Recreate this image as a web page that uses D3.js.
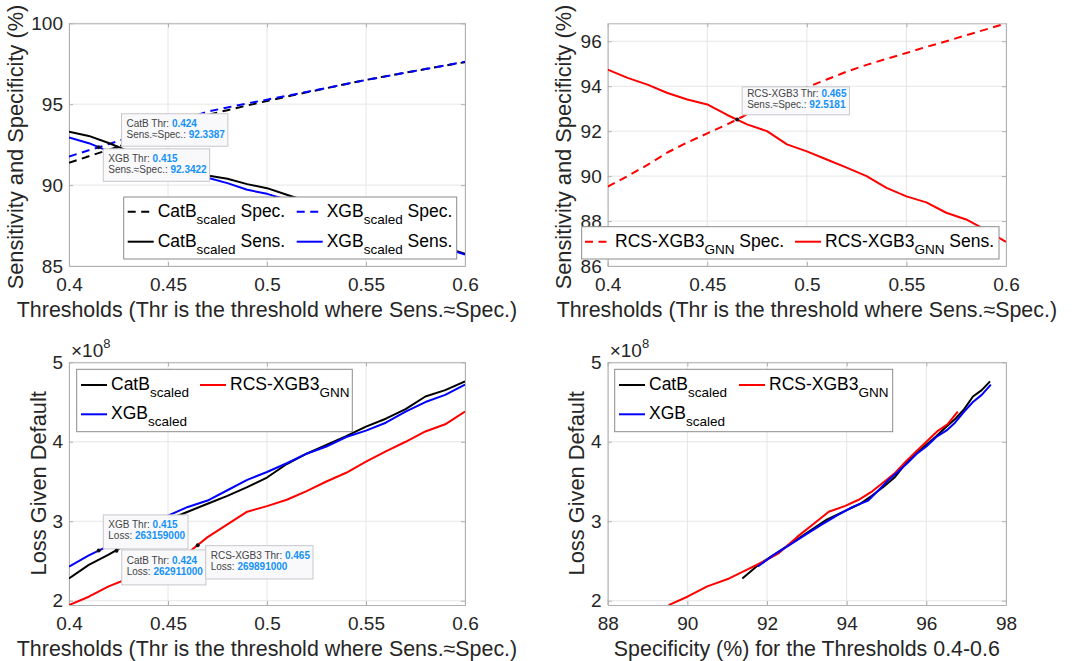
<!DOCTYPE html>
<html><head><meta charset="utf-8">
<script src="https://cdn.jsdelivr.net/npm/d3@7"></script>
<style>
body{margin:0;background:#fff}
svg{display:block}
text{font-family:"Liberation Sans",Arial,Helvetica,sans-serif;white-space:pre}
</style>
</head><body>
<svg id="c" width="1075" height="661"></svg>
<script>
// ---------------- DATA ----------------
const thresholds = [0.40,0.41,0.42,0.43,0.44,0.45,0.46,0.47,0.48,0.49,0.50,0.51,0.52,0.53,0.54,0.55,0.56,0.57,0.58,0.59,0.60];

const catbSpec = [91.38,91.78,92.18,92.60,93.05,93.50,93.92,94.34,94.63,94.92,95.20,95.47,95.73,95.99,96.25,96.50,96.73,96.95,97.17,97.39,97.60];
const xgbSpec  = [91.77,92.15,92.53,92.93,93.35,93.75,94.15,94.54,94.80,95.05,95.28,95.52,95.76,96.00,96.25,96.50,96.72,96.95,97.17,97.39,97.62];
const rcsSpec  = [89.53,90.00,90.50,91.05,91.50,91.90,92.30,92.75,93.15,93.55,93.95,94.30,94.65,94.95,95.22,95.48,95.75,96.00,96.27,96.53,96.79];

const catbSens = [93.30,93.04,92.60,92.10,91.65,91.30,90.95,90.60,90.39,90.06,89.81,89.40,89.00,88.60,88.20,87.80,87.40,87.00,86.60,86.15,85.75];
const xgbSens  = [92.94,92.59,92.10,91.70,91.35,91.00,90.70,90.45,90.12,89.71,89.46,89.10,88.75,88.40,88.05,87.70,87.30,86.95,86.55,86.10,85.70];
const rcsSens  = [94.74,94.37,94.07,93.70,93.41,93.19,92.72,92.30,92.00,91.41,91.10,90.74,90.38,90.00,89.48,89.10,88.83,88.37,88.07,87.60,87.07];

const catbLoss = [2.28e8,2.45e8,2.58e8,2.72e8,2.87e8,3.02e8,3.12e8,3.22e8,3.32e8,3.43e8,3.55e8,3.72e8,3.85e8,3.96e8,4.07e8,4.19e8,4.29e8,4.41e8,4.57e8,4.65e8,4.76e8];
const xgbLoss  = [2.43e8,2.57e8,2.69e8,2.82e8,2.95e8,3.07e8,3.18e8,3.26e8,3.39e8,3.52e8,3.62e8,3.73e8,3.85e8,3.94e8,4.06e8,4.14e8,4.24e8,4.38e8,4.50e8,4.59e8,4.72e8];
const rcsLoss  = [1.945e8,2.05e8,2.18e8,2.28e8,2.39e8,2.49e8,2.60e8,2.80e8,2.96e8,3.12e8,3.19e8,3.27e8,3.38e8,3.50e8,3.61e8,3.75e8,3.88e8,4.00e8,4.13e8,4.22e8,4.38e8];

const thrTicks   = [0.4,0.45,0.5,0.55,0.6];
const specTicks  = [88,90,92,94,96,98];
const ssTicksA   = [85,90,95,100];
const ssTicksB   = [86,88,90,92,94,96];
const lossTicks  = [2e8,3e8,4e8,5e8];

const tipsA = [
  {name:"CatB", thr:0.424, val:92.3387, txt:"92.3387"},
  {name:"XGB",  thr:0.415, val:92.3422, txt:"92.3422"}];
const tipsB = [{name:"RCS-XGB3", thr:0.465, val:92.5181, txt:"92.5181"}];
const tipsC = [
  {name:"XGB",      thr:0.415, val:263159000, txt:"263159000"},
  {name:"CatB",     thr:0.424, val:262911000, txt:"262911000"},
  {name:"RCS-XGB3", thr:0.465, val:269891000, txt:"269891000"}];

const xLabelThr  = "Thresholds (Thr is the threshold where Sens.\u2248Spec.)";
const xLabelSpec = "Specificity (%) for the Thresholds 0.4-0.6";
const yLabelSS   = "Sensitivity and Specificity (%)";
const yLabelLoss = "Loss Given Default";

// ---------------- DRAWING ----------------
const svg = d3.select('#c');
svg.append('rect').attr('width',1075).attr('height',661).attr('fill','#fff');
const FONT_TXT = '#262626';
const BLACK='#000000', BLUE='#0000ff', RED='#ff0000';
const zip = (a,b)=>a.map((v,i)=>[v,b[i]]);

let clipId = 0;
function panel(cfg){
  const {L,R,T,B} = cfg.box;
  const x = d3.scaleLinear().domain(cfg.xd).range([L,R]);
  const y = d3.scaleLinear().domain(cfg.yd).range([B,T]);
  const g = svg.append('g');
  const id = 'clip'+(clipId++);
  g.append('clipPath').attr('id',id).append('rect').attr('x',L).attr('y',T).attr('width',R-L).attr('height',B-T);

  // grid
  const grid = g.append('g').attr('stroke','#e6e6e6').attr('stroke-width',1);
  cfg.xt.forEach(v=>grid.append('line').attr('x1',x(v)).attr('x2',x(v)).attr('y1',T).attr('y2',B));
  cfg.yt.forEach(v=>grid.append('line').attr('y1',y(v)).attr('y2',y(v)).attr('x1',L).attr('x2',R));

  // axes
  const axCol = '#b0b0b0';
  const styleAx = sel=>{ sel.selectAll('path.domain').attr('stroke',axCol);
    sel.selectAll('.tick line').attr('stroke',axCol);
    sel.selectAll('.tick text').attr('fill',FONT_TXT).attr('font-size',19).attr('font-family','"Liberation Sans",Arial,sans-serif'); };
  g.append('g').attr('transform',`translate(0,${B})`)
    .call(d3.axisBottom(x).tickValues(cfg.xt).tickFormat(cfg.xf).tickSize(-4).tickSizeOuter(0).tickPadding(12)).call(styleAx);
  g.append('g').attr('transform',`translate(0,${T})`)
    .call(d3.axisTop(x).tickValues(cfg.xt).tickFormat('').tickSize(-4).tickSizeOuter(0)).call(styleAx);
  g.append('g').attr('transform',`translate(${L},0)`)
    .call(d3.axisLeft(y).tickValues(cfg.yt).tickFormat(cfg.yf).tickSize(-4).tickSizeOuter(0).tickPadding(6)).call(styleAx);
  g.append('g').attr('transform',`translate(${R},0)`)
    .call(d3.axisRight(y).tickValues(cfg.yt).tickFormat('').tickSize(-4).tickSizeOuter(0)).call(styleAx);
  g.selectAll('.tick text').attr('font-size',19);

  // series
  const line = d3.line().x(d=>x(d[0])).y(d=>y(d[1]));
  const lg = g.append('g').attr('clip-path',`url(#${id})`);
  cfg.series.forEach(s=>{
    lg.append('path').attr('d',line(zip(s.x,s.y))).attr('fill','none')
      .attr('stroke',s.color).attr('stroke-width',2)
      .attr('stroke-dasharray',s.dash?'8,5.5':null).attr('stroke-linejoin','round');
  });

  // labels
  g.append('text').attr('x',(L+R)/2).attr('y',B+50.5).attr('text-anchor','middle')
    .attr('font-size',21.4).attr('fill',FONT_TXT).text(cfg.xlabel);
  g.append('text').attr('transform',`translate(${cfg.ylx},${cfg.yly}) rotate(-90)`).attr('text-anchor','middle')
    .attr('font-size',21.8).attr('fill',FONT_TXT).text(cfg.ylabel);

  if(cfg.exp){
    const t = g.append('text').attr('x',L+2).attr('y',T-5.6).attr('font-size',19).attr('fill',FONT_TXT);
    t.append('tspan').text('\u00d710');
    t.append('tspan').attr('font-size',13).attr('dy',-9).text('8');
  }

  // legend
  const lb = cfg.legend;
  const leg = g.append('g');
  leg.append('rect').attr('x',lb.x).attr('y',lb.y).attr('width',lb.w).attr('height',lb.h)
    .attr('fill','#fff').attr('stroke','#8c8c8c').attr('stroke-width',1);
  cfg.series.forEach((s,i)=>{
    const c = i % lb.cols.length, r = Math.floor(i/lb.cols.length);
    const lx = lb.x + lb.cols[c], ly = lb.y + lb.rows[r];
    leg.append('line').attr('x1',lx).attr('x2',lx+26).attr('y1',ly).attr('y2',ly)
      .attr('stroke',s.color).attr('stroke-width',2).attr('stroke-dasharray',s.dash?'8,5.5':null);
    const t = leg.append('text').attr('x',lx+30).attr('y',ly+4.8).attr('font-size',17.5).attr('fill','#000');
    t.append('tspan').text(s.name[0]);
    t.append('tspan').attr('font-size',13.5).attr('dy',7).text(s.name[1]);
    if(s.name[2]) t.append('tspan').attr('dy',-7).text(s.name[2]);
  });

  // datatips
  (cfg.tips||[]).forEach((tp,i)=>{
    const mx = x(tp.thr), my = y(tp.val);
    const pl = cfg.tipPlace[i];
    const tg = g.append('g');
    const h = pl.h || 31;
    const left = mx + pl.dx;
    const top = pl.above ? my + pl.dy - h : my + pl.dy;
    const rect = tg.append('rect').attr('x',left).attr('y',top).attr('height',h)
      .attr('fill','#f9f9fc').attr('stroke','#c8c8cc').attr('stroke-width',1);
    const l1 = tg.append('text').attr('x',left+5).attr('y',top+h/2-3.5).attr('font-size',10);
    l1.append('tspan').attr('fill','#444').text(tp.name+' Thr: ');
    l1.append('tspan').attr('fill','#1592f5').attr('font-weight','bold').text(String(tp.thr));
    const l2 = tg.append('text').attr('x',left+5).attr('y',top+h/2+7.5).attr('font-size',10);
    l2.append('tspan').attr('fill','#444').text(cfg.tipLabel);
    l2.append('tspan').attr('fill','#1592f5').attr('font-weight','bold').text(tp.txt);
    const w = Math.max(l1.node().getComputedTextLength(), l2.node().getComputedTextLength()) + 8;
    rect.attr('width',w);
    g.append('circle').attr('cx',mx).attr('cy',my).attr('r',2).attr('fill','#111');
  });
}

const thrFmt = d=>String(d);
const boxes = [
  {L:69,R:465,T:23.3,B:266},
  {L:607.7,R:1006,T:23.3,B:266},
  {L:69,R:465,T:362.3,B:605},
  {L:607.7,R:1006,T:362.3,B:605}];

panel({box:boxes[0], xd:[0.4,0.6], yd:[85,100], xt:thrTicks, yt:ssTicksA, xf:thrFmt, yf:d=>String(d),
  xlabel:xLabelThr, ylabel:yLabelSS, ylx:23, yly:147,
  series:[
    {x:thresholds,y:catbSpec,color:BLACK,dash:true,name:['CatB','scaled',' Spec.']},
    {x:thresholds,y:xgbSpec,color:BLUE,dash:true,name:['XGB','scaled',' Spec.']},
    {x:thresholds,y:catbSens,color:BLACK,dash:false,name:['CatB','scaled',' Sens.']},
    {x:thresholds,y:xgbSens,color:BLUE,dash:false,name:['XGB','scaled',' Sens.']}],
  legend:{x:123.7,y:197,w:333,h:62,cols:[4,173],rows:[14.7,44.7]},
  tips:tipsA, tipLabel:'Sens.\u2248Spec.: ',
  tipPlace:[{dx:5,dy:-1,above:true,h:32.5},{dx:4.6,dy:1.6,above:false,h:32.5}]
});

panel({box:boxes[1], xd:[0.4,0.6], yd:[86,96.8], xt:thrTicks, yt:ssTicksB, xf:thrFmt, yf:d=>String(d),
  xlabel:xLabelThr, ylabel:yLabelSS, ylx:571, yly:147,
  series:[
    {x:thresholds,y:rcsSpec,color:RED,dash:true,name:['RCS-XGB3','GNN',' Spec.']},
    {x:thresholds,y:rcsSens,color:RED,dash:false,name:['RCS-XGB3','GNN',' Sens.']}],
  legend:{x:581.7,y:226.7,w:417.3,h:32.3,cols:[3.3,213.3],rows:[15]},
  tips:tipsB, tipLabel:'Sens.\u2248Spec.: ',
  tipPlace:[{dx:5,dy:-4.7,above:true,h:28}]
});

panel({box:boxes[2], xd:[0.4,0.6], yd:[1.946e8,5e8], xt:thrTicks, yt:lossTicks, xf:thrFmt, yf:d=>String(d/1e8),
  xlabel:xLabelThr, ylabel:yLabelLoss, ylx:45.5, yly:483.3, exp:true,
  series:[
    {x:thresholds,y:catbLoss,color:BLACK,dash:false,name:['CatB','scaled']},
    {x:thresholds,y:rcsLoss,color:RED,dash:false,name:['RCS-XGB3','GNN']},
    {x:thresholds,y:xgbLoss,color:BLUE,dash:false,name:['XGB','scaled']}],
  legend:{x:76.7,y:369.3,w:275.6,h:62.4,cols:[4.3,123.3],rows:[15.7,45]},
  tips:tipsC, tipLabel:'Loss: ',
  tipPlace:[{dx:4.6,dy:-1.6,above:true,h:34},{dx:5.2,dy:-0.8,above:false,h:35},{dx:8,dy:0.5,above:false,h:33.3}]
});

panel({box:boxes[3], xd:[88,98], yd:[1.946e8,5e8], xt:specTicks, yt:lossTicks, xf:d=>String(d), yf:d=>String(d/1e8),
  xlabel:xLabelSpec, ylabel:yLabelLoss, ylx:584, yly:483.3, exp:true,
  series:[
    {x:catbSpec,y:catbLoss,color:BLACK,dash:false,name:['CatB','scaled']},
    {x:rcsSpec,y:rcsLoss,color:RED,dash:false,name:['RCS-XGB3','GNN']},
    {x:xgbSpec,y:xgbLoss,color:BLUE,dash:false,name:['XGB','scaled']}],
  legend:{x:614.7,y:369.3,w:278,h:62.4,cols:[4.3,124.3],rows:[15.7,45]}
});
</script>
</body></html>
